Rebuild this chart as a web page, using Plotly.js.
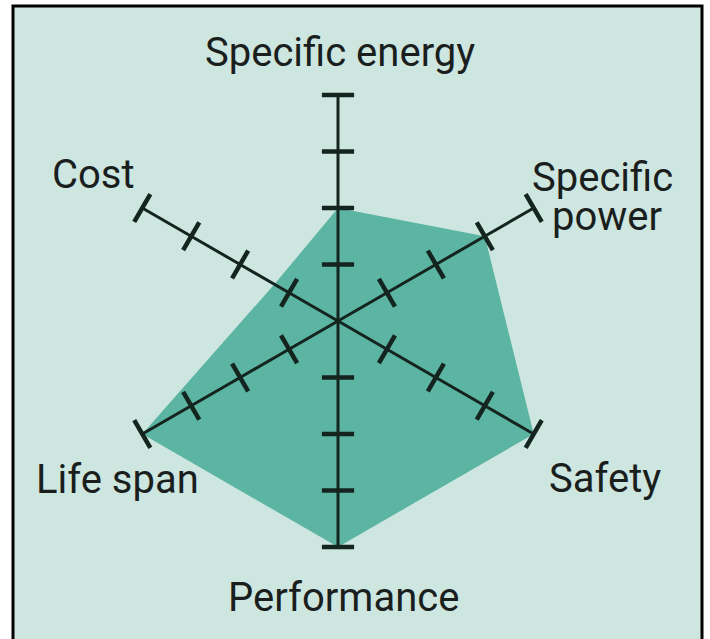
<!DOCTYPE html>
<html>
<head>
<meta charset="utf-8">
<script src="https://cdn.plot.ly/plotly-3.0.1.min.js"></script>
<style>
  html, body { margin: 0; padding: 0; background: #ffffff; }
  #chart { width: 710px; height: 639px; }
</style>
</head>
<body>
<div id="chart"></div>
<script>
// ---- data ----
const categories = ["Specific energy", "Specific power", "Safety", "Performance", "Life span", "Cost"];
const labelLines = [["Specific energy"], ["Specific", "power"], ["Safety"], ["Performance"], ["Life span"], ["Cost"]];
const values = [2, 3, 4, 4, 4, 1.3];
const levels = [0, 1, 2, 3, 4];

// ---- style ----
const bg = "#cde6e0";
const fillCol = "#5cb4a2";
const ink = "#14241f";

const traces = [];

// filled profile
traces.push({
  type: "scatterpolar",
  r: values,
  theta: categories,
  mode: "lines",
  fill: "toself",
  fillcolor: fillCol,
  line: { color: fillCol, width: 0 },
  hoverinfo: "skip",
  showlegend: false
});

// the six axes with perpendicular tick marks
categories.forEach(function (c, i) {
  traces.push({
    type: "scatterpolar",
    r: levels,
    theta: levels.map(function () { return c; }),
    mode: "lines+markers",
    line: { color: ink, width: 3 },
    marker: {
      symbol: "line-ew",
      size: levels.map(function (l) { return l === 0 ? 0 : 23; }),
      angle: i * 60,
      opacity: 1,
      color: ink,
      line: { color: ink, width: 4.5 }
    },
    hoverinfo: "skip",
    showlegend: false
  });
});

// label placement (paper px → fraction), one entry per text line
const W = 710, H = 639;
const labelPos = [
  [[340, 53]], [[602, 177], [607, 216]], [[605, 478]], [[343, 597]], [[117, 479]], [[93, 175]]
];
const annotations = [];
labelLines.forEach(function (lines, i) {
  lines.forEach(function (t, j) {
    annotations.push({
      xref: "paper", yref: "paper",
      x: labelPos[i][j][0] / W, y: 1 - labelPos[i][j][1] / H,
      xanchor: "center", yanchor: "middle",
      text: t, showarrow: false, borderpad: 0,
      font: { family: "Roboto, sans-serif", size: 40, color: "#1a1f1e" }
    });
  });
});

const R = 226, cx = 338, cy = 321;
const layout = {
  width: W, height: H,
  margin: { l: 0, r: 0, t: 0, b: 0 },
  paper_bgcolor: "#ffffff",
  showlegend: false,
  shapes: [{
    type: "rect", xref: "paper", yref: "paper", layer: "below",
    x0: 13 / W, x1: 702 / W, y0: -0.05, y1: 1 - 6 / H,
    fillcolor: bg, line: { color: "#000000", width: 3 }
  }],
  polar: {
    domain: { x: [(cx - R) / W, (cx + R) / W], y: [1 - (cy + R) / H, 1 - (cy - R) / H] },
    bgcolor: "rgba(0,0,0,0)",
    radialaxis: { range: [0, 4], visible: false, showgrid: false, showline: false },
    angularaxis: {
      type: "category",
      categoryarray: categories,
      rotation: 90,
      direction: "clockwise",
      showgrid: false, showline: false, showticklabels: false, ticks: ""
    }
  },
  annotations: annotations
};

Plotly.newPlot("chart", traces, layout, { staticPlot: true });
</script>
</body>
</html>
